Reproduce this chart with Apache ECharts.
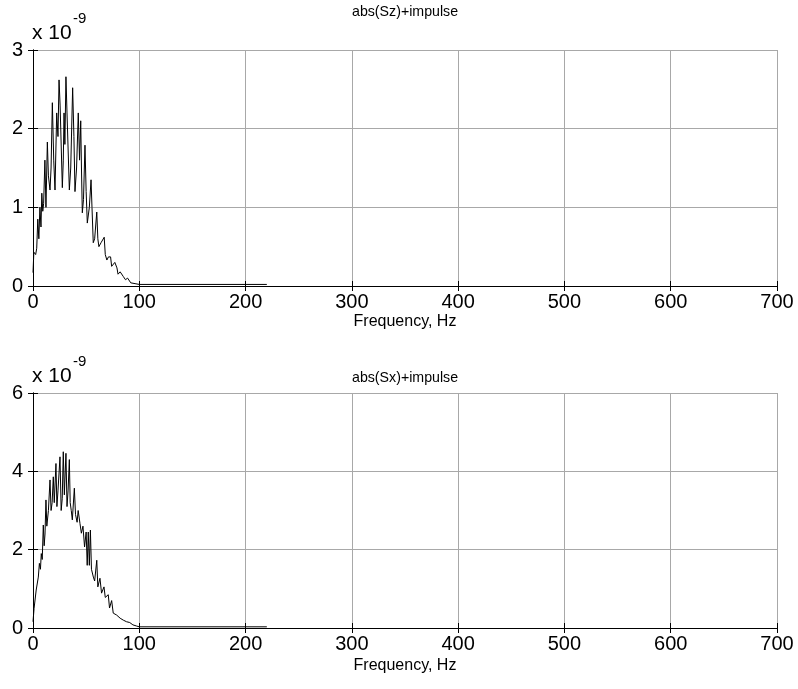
<!DOCTYPE html>
<html><head><meta charset="utf-8">
<script src="https://cdn.jsdelivr.net/npm/echarts@6/dist/echarts.min.js"></script>
<style>html,body{margin:0;padding:0;background:#fff}#c{width:798px;height:689px}</style>
</head><body><div id="c"></div>
<script>
// Data (values in units of 1e-9)
const xTicks = [0,100,200,300,400,500,600,700];
const titles = ['abs(Sz)+impulse','abs(Sx)+impulse'];
const xLabel = 'Frequency, Hz';
const szFreq = [0,0.8,2.5,3.5,4.5,5.5,6.5,7.5,8.3,9.2,10,11.2,12.2,13.5,14.5,16,17,18.2,19.5,20.7,22.3,23.5,24.5,25.5,27.6,28.5,29.2,30,31,32,34.2,35.5,37.3,38.5,39.5,41,42.6,43.8,44.9,45.6,46.4,47.5,48.9,50,51.1,53,54.6,55.5,56.7,58,60,61,62,64,67,68,69.5,71,73,74,75,77,79,80,82,85,87,89,92,96,100,220];
const szVal  = [0.17,0.43,0.4,0.48,0.85,0.6,1.0,0.75,1.18,0.95,1.05,1.6,1.0,1.83,1.4,1.22,1.5,2.33,1.6,1.22,2.2,1.9,2.62,2.3,1.25,1.6,2.2,1.8,2.66,2.2,1.22,1.5,2.52,1.9,1.2,1.5,2.2,1.6,2.1,1.5,0.93,1.1,1.79,1.2,0.8,1.0,1.35,1.0,0.55,0.6,0.94,0.6,0.5,0.55,0.62,0.4,0.33,0.37,0.37,0.25,0.23,0.3,0.23,0.15,0.18,0.12,0.08,0.1,0.04,0.03,0.02,0.02];
const sxFreq = [0,1,2,3,4,5,6,7,7.8,8.7,9.7,10.5,11.3,12.2,13,14.5,16,17,18,19.1,20,21.6,22.5,23.5,25.4,26.5,27.5,28.5,29.5,31,32,33,34.2,35,36,37,38.9,40,41.5,42.5,44.2,45.5,47,48.5,50,51,52,53,54,55,56.8,58,60,61,63,64.5,66.8,68,70.8,72,74,75.5,78.7,82,85,88,91,94,97.5,100,220];
const sxVal  = [0.16,0.5,0.55,0.97,1.0,1.3,1.65,1.5,1.9,1.75,2.63,2.1,2.4,3.27,2.6,3.0,3.78,3.0,3.2,3.86,3.2,4.2,3.1,3.5,4.37,3.0,3.3,4.5,3.4,4.46,3.1,3.5,4.3,3.2,3.0,2.76,3.57,2.9,2.7,3.0,2.67,2.42,2.6,2.07,2.45,1.6,2.45,1.6,2.5,1.5,1.3,1.2,1.73,1.05,1.27,0.89,1.05,0.78,0.85,0.51,0.7,0.38,0.33,0.25,0.2,0.16,0.14,0.08,0.05,0.03,0.03];
const yMax = [3, 6];
const yStep = [1, 2];

const font = 'Liberation Sans, Arial, sans-serif';
const grids = [
  {left:33, top:50, width:744, height:236},
  {left:33, top:393, width:744, height:235}
];
const axisLine = {show:true, lineStyle:{color:'#000', width:1}};
const tick = {show:true, inside:true, length:5, lineStyle:{color:'#000'}};
const split = {show:true, lineStyle:{color:'#a8a8a8', width:1}};
const xAxis = [], yAxis = [];
grids.forEach((g,i)=>{
  xAxis.push({type:'value', gridIndex:i, min:0, max:700, interval:100, position:'bottom',
    axisLine, axisTick:tick, splitLine:split,
    axisLabel:{color:'#000', fontSize:20, fontFamily:font, margin:6},
    name:xLabel, nameLocation:'middle', nameGap:i===0?28:30,
    nameTextStyle:{color:'#000', fontSize:16, fontFamily:font}});
  xAxis.push({type:'value', gridIndex:i, min:0, max:700, interval:100, position:'top',
    axisLine, axisTick:tick, splitLine:{show:false}, axisLabel:{show:false}});
  yAxis.push({type:'value', gridIndex:i, min:0, max:yMax[i], interval:yStep[i], position:'left',
    axisLine, axisTick:tick, splitLine:split,
    axisLabel:{color:'#000', fontSize:20, fontFamily:font, margin:10}});
  yAxis.push({type:'value', gridIndex:i, min:0, max:yMax[i], interval:yStep[i], position:'right',
    axisLine, axisTick:tick, splitLine:{show:false}, axisLabel:{show:false}});
});
const mk = (f,v)=>f.map((x,k)=>[x,v[k]]);
const chart = echarts.init(document.getElementById('c'), null, {renderer:'canvas'});
chart.setOption({
  animation:false,
  backgroundColor:'#fff',
  title: titles.map((t,i)=>({text:t, left:352, top:i===0?5:371, padding:0,
    textStyle:{fontSize:14.2, fontWeight:'normal', color:'#000', fontFamily:font}})),
  grid: grids,
  xAxis, yAxis,
  series:[
    {type:'line', xAxisIndex:0, yAxisIndex:0, data:mk(szFreq,szVal), showSymbol:false,
      lineStyle:{color:'#000', width:1}},
    {type:'line', xAxisIndex:2, yAxisIndex:2, data:mk(sxFreq,sxVal), showSymbol:false,
      lineStyle:{color:'#000', width:1}}
  ],
  graphic:[
    {type:'text', left:32, top:23, style:{text:'x 10', fontSize:21, fontFamily:font, fill:'#000'}},
    {type:'text', left:73, top:11, style:{text:'-9', fontSize:15, fontFamily:font, fill:'#000'}},
    {type:'text', left:32, top:366, style:{text:'x 10', fontSize:21, fontFamily:font, fill:'#000'}},
    {type:'text', left:73, top:354, style:{text:'-9', fontSize:15, fontFamily:font, fill:'#000'}}
  ]
});
</script></body></html>
